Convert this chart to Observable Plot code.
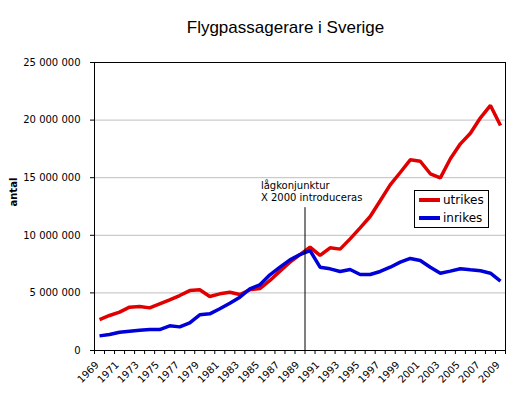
<!DOCTYPE html>
<html>
<head>
<meta charset="utf-8">
<script src="https://cdn.jsdelivr.net/npm/d3@7"></script>
<script src="https://cdn.jsdelivr.net/npm/@observablehq/plot@0.6"></script>
<style>
  html, body { margin: 0; padding: 0; background: #fff; }
  #wrap { position: relative; width: 532px; height: 398px; overflow: hidden; }
  #title { box-sizing: border-box; width: 532px; height: 42px; padding-top: 19px; padding-left: 39px;
           text-align: center; font-family: "Liberation Sans", Arial, sans-serif; font-size: 17px; line-height: 17px; color: #000; }
  #legend { position: absolute; left: 414px; top: 190px; width: 73px; height: 36px; border: 1px solid #000; background: #fff;
            font-family: "DejaVu Sans", Verdana, sans-serif; font-size: 12px; color: #000; }
  .item { position: absolute; left: 0; height: 16px; line-height: 16px; }
  .sw { position: absolute; left: 4px; top: 6px; width: 21px; height: 4px; }
  .lb { position: absolute; left: 28px; top: 0; white-space: nowrap; }
</style>
</head>
<body>
<div id="wrap">
  <div id="title">Flygpassagerare i Sverige</div>
  <div id="chart"></div>
  <div id="legend"></div>
</div>
<script>
const years = [1969,1970,1971,1972,1973,1974,1975,1976,1977,1978,1979,1980,1981,1982,1983,1984,1985,1986,1987,1988,1989,
               1990,1991,1992,1993,1994,1995,1996,1997,1998,1999,2000,2001,2002,2003,2004,2005,2006,2007,2008,2009];
const utrikes = [2.69,3.04,3.33,3.76,3.82,3.70,4.05,4.40,4.77,5.20,5.27,4.69,4.92,5.06,4.86,5.27,5.38,6.08,6.89,7.67,8.33,
                 8.97,8.25,8.91,8.80,9.69,10.65,11.63,13.0,14.38,15.45,16.55,16.43,15.34,14.99,16.64,17.94,18.86,20.2,21.27,19.53];
const inrikes = [1.27,1.39,1.59,1.68,1.76,1.82,1.82,2.14,2.05,2.40,3.10,3.18,3.62,4.10,4.63,5.35,5.70,6.57,7.23,7.87,8.33,
                 8.68,7.23,7.09,6.86,7.03,6.60,6.60,6.86,7.23,7.67,7.99,7.81,7.23,6.71,6.89,7.09,7.00,6.92,6.71,6.02];
const seriesNames = ["utrikes", "inrikes"];
const seriesColors = ["#e00000", "#0000d8"];
const yTicks = [0, 5000000, 10000000, 15000000, 20000000, 25000000];
const labelYears = [1969,1971,1973,1975,1977,1979,1981,1983,1985,1987,1989,1991,1993,1995,1997,1999,2001,2003,2005,2007,2009];
const annotationYear = 1989.5;
const annotationTop = 12400000;
const annotationTextYear = 1985.1;
const annotationTextValue = 13000000;
const annotationText = "lågkonjunktur\nX 2000 introduceras";
const yLabel = "antal";

const rows = [];
years.forEach((yr, i) => {
  rows.push({year: yr, value: utrikes[i] * 1e6, series: seriesNames[0]});
});
years.forEach((yr, i) => {
  rows.push({year: yr, value: inrikes[i] * 1e6, series: seriesNames[1]});
});
const boundaries = [years[0] - 0.5, ...years.map(y => y + 0.5)];
const fmt = v => d3.format(",")(v).replace(/,/g, " ");

const chart = Plot.plot({
  width: 532,
  height: 356,
  marginLeft: 94,
  marginRight: 27,
  marginTop: 20,
  marginBottom: 48,
  style: {fontFamily: "DejaVu Sans, Verdana, sans-serif", fontSize: "10px", color: "#000", background: "#fff"},
  x: {domain: [years[0] - 0.5, years[years.length - 1] + 0.5]},
  y: {domain: [0, 25000000]},
  color: {domain: seriesNames, range: seriesColors},
  marks: [
    Plot.gridY(yTicks.slice(1, -1), {stroke: "#bfbfbf", strokeOpacity: 1}),
    Plot.frame({stroke: "#000"}),
    Plot.axisY(yTicks, {tickSize: 4, tickPadding: 10, tickFormat: fmt, label: null, fontSize: 10, stroke: "#000"}),
    Plot.axisX(boundaries, {tickSize: 4, tickFormat: () => "", label: null, stroke: "#000"}),
    Plot.text(labelYears, {x: d => d, frameAnchor: "bottom", text: d => String(d), rotate: -45, textAnchor: "end", dx: 0, dy: 15, fontSize: 10, fill: "#000"}),
    Plot.text([yLabel], {frameAnchor: "left", text: d => d, rotate: -90, dx: -81, fontWeight: "bold", fontSize: 10, fill: "#000"}),
    Plot.line(rows, {x: "year", y: "value", z: "series", stroke: "series", strokeWidth: 3.5, strokeLinejoin: "miter", strokeLinecap: "butt"}),
    Plot.ruleX([annotationYear], {y1: 0, y2: annotationTop, stroke: "#000", strokeWidth: 1}),
    Plot.text([annotationText], {x: annotationTextYear, y: annotationTextValue, text: d => d, textAnchor: "start", lineAnchor: "bottom", lineHeight: 1.15, fontSize: 10, fill: "#000"})
  ]
});
document.getElementById("chart").appendChild(chart);

const legend = document.getElementById("legend");
seriesNames.forEach((name, i) => {
  const item = document.createElement("div");
  item.className = "item";
  item.style.top = (i === 0 ? 1 : 19) + "px";
  item.style.width = "100%";
  const sw = document.createElement("div");
  sw.className = "sw";
  sw.style.background = seriesColors[i];
  const lb = document.createElement("div");
  lb.className = "lb";
  lb.textContent = name;
  item.appendChild(sw);
  item.appendChild(lb);
  legend.appendChild(item);
});
</script>
</body>
</html>
